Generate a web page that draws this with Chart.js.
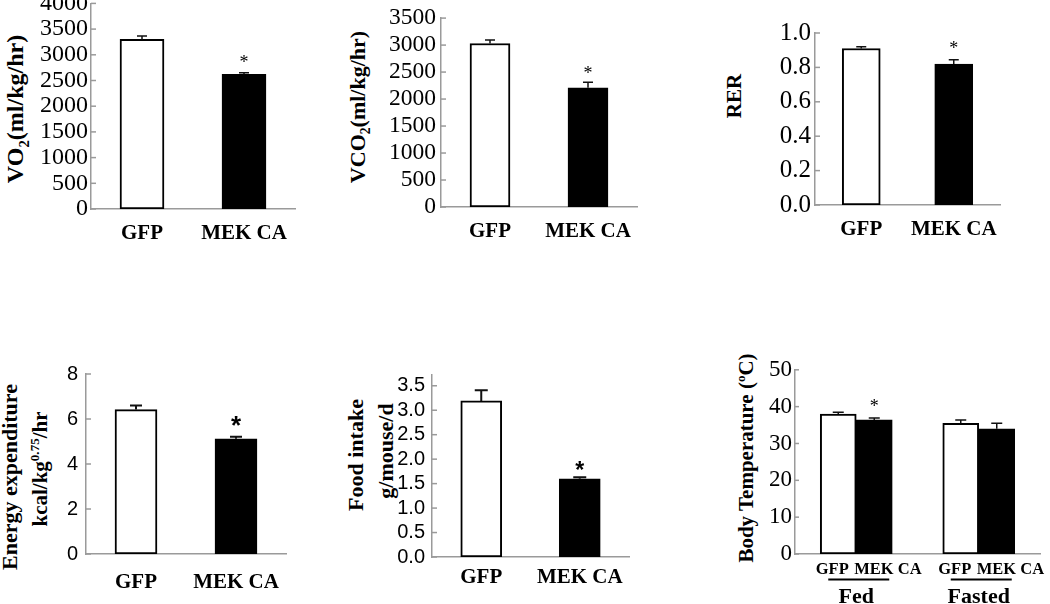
<!DOCTYPE html>
<html>
<head>
<meta charset="utf-8">
<script src="https://cdn.jsdelivr.net/npm/chart.js@4.4.1/dist/chart.umd.min.js"></script>
<style>
  body { margin: 0; background: #fff; }
  #lienzo { position: relative; width: 1050px; height: 604px; overflow: hidden; background: #fff; }
  #lienzo canvas { position: absolute; }
  .titulo {
    position: absolute; white-space: nowrap; line-height: 1; color: #000;
    font-family: "Liberation Serif", "Times New Roman", serif; font-weight: bold;
    transform: translate(-50%, -50%) rotate(-90deg);
  }
  .titulo sub, .titulo sup { font-size: 0.62em; line-height: 0; }
</style>
</head>
<body>
<div id="lienzo">
  <div class="titulo" style="left:15px; top:109px; font-size:24px">VO<sub>2</sub>(ml/kg/hr)</div>
  <div class="titulo" style="left:358px; top:107px; font-size:22px">VCO<sub>2</sub>(ml/kg/hr)</div>
  <div class="titulo" style="left:734px; top:96px; font-size:21px">RER</div>
  <div class="titulo" style="left:10px; top:477px; font-size:22px">Energy expenditure</div>
  <div class="titulo" style="left:40px; top:469px; font-size:21px">kcal/kg<sup>0.75</sup>/hr</div>
  <div class="titulo" style="left:356px; top:455px; font-size:22px">Food intake</div>
  <div class="titulo" style="left:386px; top:451px; font-size:22px">g/mouse/d</div>
  <div class="titulo" style="left:746px; top:458px; font-size:21px">Body Temperature (<sup>o</sup>C)</div>
</div>
<script>
// datos
const grupos = ["GFP", "MEK CA"];

const vo2 = [3300, 2620];
const vo2Error = [65, 30];

const vco2 = [3030, 2210];
const vco2Error = [65, 100];

const rer = [0.91, 0.82];
const rerError = [0.01, 0.025];

const energia = [6.42, 5.12];
const energiaError = [0.18, 0.09];

const comida = [3.19, 1.60];
const comidaError = [0.22, 0.03];

const condiciones = ["Fed", "Fasted"];
const temperaturaGFP = [38.0, 35.5];
const temperaturaGFPError = [0.5, 0.9];
const temperaturaMEK = [36.4, 34.0];
const temperaturaMEKError = [0.5, 1.5];

const significativo = [false, true];
const significativoTemp = [true, false];

const colorEje = '#9a9a9a';
const serif = '"Liberation Serif", "Times New Roman", serif';
const sans = '"Liberation Sans", Arial, sans-serif';

// barras de error, marcas del eje hacia dentro, asteriscos y subetiquetas
const extrasPlugin = {
  id: 'extras',
  afterDatasetsDraw(chart, args, opts) {
    const ctx = chart.ctx;
    const area = chart.chartArea;
    const escalaY = chart.scales.y;
    ctx.save();

    ctx.strokeStyle = colorEje;
    ctx.lineWidth = 1.5;
    escalaY.ticks.forEach(t => {
      const py = escalaY.getPixelForValue(t.value);
      ctx.beginPath();
      ctx.moveTo(area.left, py);
      ctx.lineTo(area.left + opts.marca, py);
      ctx.stroke();
    });

    chart.data.datasets.forEach((ds, d) => {
      chart.getDatasetMeta(d).data.forEach((bar, i) => {
        const tope = escalaY.getPixelForValue(ds.data[i] + ds.errores[i]);
        ctx.strokeStyle = '#111';
        ctx.lineWidth = opts.grosorError;
        ctx.beginPath();
        ctx.moveTo(bar.x, bar.y);
        ctx.lineTo(bar.x, tope);
        ctx.moveTo(bar.x - opts.tapa / 2, tope);
        ctx.lineTo(bar.x + opts.tapa / 2, tope);
        ctx.stroke();
        if (ds.estrellas[i]) {
          ctx.fillStyle = '#000';
          ctx.font = opts.fuenteEstrella;
          ctx.textAlign = 'center';
          ctx.textBaseline = 'alphabetic';
          ctx.fillText('*', bar.x, tope + opts.dyEstrella);
        }
      });
    });

    if (opts.subEtiquetas) {
      const gfp = chart.getDatasetMeta(0).data;
      const mek = chart.getDatasetMeta(1).data;
      ctx.fillStyle = '#000';
      ctx.font = 'bold 16.5px ' + serif;
      ctx.textBaseline = 'middle';
      gfp.forEach((barG, i) => {
        const barM = mek[i];
        const yTexto = area.bottom + 15.5;
        ctx.textAlign = 'center';
        ctx.fillText(chart.data.datasets[0].label, barG.x - 6, yTexto);
        ctx.textAlign = 'left';
        ctx.fillText(chart.data.datasets[1].label, barM.x - barM.width / 2 - 2, yTexto);
        const izq = barG.x - barG.width / 2;
        const der = barM.x + barM.width / 2;
        ctx.strokeStyle = '#000';
        ctx.lineWidth = 2;
        ctx.beginPath();
        ctx.moveTo(izq + 8, area.bottom + 25.5);
        ctx.lineTo(der - 3, area.bottom + 25.5);
        ctx.stroke();
      });
    }
    ctx.restore();
  }
};

function crearPanel(p) {
  const anchoY = 90, altoX = 70, margenSup = 16;
  const margenDer = p.margenDer || 30;
  const canvas = document.createElement('canvas');
  canvas.width = anchoY + (p.der - p.izq) + margenDer;
  canvas.height = margenSup + (p.abajo - p.arriba) + altoX;
  canvas.style.left = (p.izq - anchoY) + 'px';
  canvas.style.top = (p.arriba - margenSup) + 'px';
  document.getElementById('lienzo').appendChild(canvas);

  return new Chart(canvas.getContext('2d'), {
    type: 'bar',
    data: { labels: p.etiquetas, datasets: p.series },
    plugins: [extrasPlugin],
    options: {
      responsive: false,
      animation: false,
      devicePixelRatio: 1,
      layout: { padding: { top: margenSup, right: margenDer, left: 0, bottom: 0 } },
      scales: {
        x: {
          grid: { display: false, drawTicks: false },
          border: { display: true, color: colorEje, width: 1.5 },
          ticks: {
            color: '#000',
            padding: p.padX,
            maxRotation: 0,
            autoSkip: false,
            font: { family: serif, size: p.fuenteX || 21, weight: 'bold' }
          },
          afterFit: s => { s.height = altoX; }
        },
        y: {
          min: 0,
          max: p.max,
          grid: { display: false, drawTicks: false },
          border: { display: true, color: colorEje, width: 1.5 },
          ticks: {
            stepSize: p.paso,
            includeBounds: false,
            autoSkip: false,
            color: '#000',
            padding: p.padY,
            font: { family: p.familiaY, size: p.fuenteY },
            callback: v => p.decimales ? v.toFixed(p.decimales) : v
          },
          afterFit: s => { s.width = anchoY; }
        }
      },
      plugins: {
        legend: { display: false },
        tooltip: { enabled: false },
        extras: p.extras
      }
    }
  });
}

function serieSimple(valores, errores, ancho) {
  return [{
    label: 'Promedio',
    data: valores,
    errores: errores,
    estrellas: significativo,
    backgroundColor: ['#ffffff', '#000000'],
    borderColor: '#000',
    borderWidth: 2,
    borderSkipped: false,
    barThickness: ancho
  }];
}

crearPanel({
  izq: 91, der: 295, arriba: 2, abajo: 209,
  max: 4000, paso: 500, familiaY: serif, fuenteY: 24, padY: 3, padX: 12,
  etiquetas: grupos, series: serieSimple(vo2, vo2Error, 44),
  extras: { marca: 5, tapa: 10, grosorError: 1.5, fuenteEstrella: '18px ' + serif, dyEstrella: -4.5 }
});

crearPanel({
  izq: 441, der: 637, arriba: 15, abajo: 207,
  max: 3500, paso: 500, familiaY: serif, fuenteY: 23.5, padY: 5, padX: 12,
  etiquetas: grupos, series: serieSimple(vco2, vco2Error, 40),
  extras: { marca: 5, tapa: 10, grosorError: 1.5, fuenteEstrella: '18px ' + serif, dyEstrella: -3.5 }
});

crearPanel({
  izq: 815, der: 1000, arriba: 30, abajo: 205,
  max: 1.0, paso: 0.2, decimales: 1, familiaY: serif, fuenteY: 25, padY: 4, padX: 12,
  etiquetas: grupos, series: serieSimple(rer, rerError, 38),
  extras: { marca: 5, tapa: 10, grosorError: 1.5, fuenteEstrella: '18px ' + serif, dyEstrella: -5.5 }
});

crearPanel({
  izq: 86, der: 286, arriba: 370, abajo: 554,
  max: 8, paso: 2, familiaY: sans, fuenteY: 20, padY: 8, padX: 16,
  etiquetas: grupos, series: serieSimple(energia, energiaError, 42),
  extras: { marca: 5, tapa: 12, grosorError: 2, fuenteEstrella: 'bold 26px ' + sans, dyEstrella: -3 }
});

crearPanel({
  izq: 432, der: 629, arriba: 372, abajo: 557,
  max: 3.72, paso: 0.5, decimales: 1, familiaY: sans, fuenteY: 20, padY: 7, padX: 8,
  etiquetas: grupos, series: serieSimple(comida, comidaError, 41),
  extras: { marca: 5, tapa: 13, grosorError: 2, fuenteEstrella: 'bold 23px ' + sans, dyEstrella: 0.5 }
});

crearPanel({
  izq: 795, der: 1040, arriba: 369, abajo: 554, margenDer: 10,
  max: 50, paso: 10, familiaY: serif, fuenteY: 23, padY: 3, padX: 30, fuenteX: 22,
  etiquetas: condiciones,
  series: [
    {
      label: 'GFP', data: temperaturaGFP, errores: temperaturaGFPError, estrellas: [false, false],
      backgroundColor: '#ffffff', borderColor: '#000', borderWidth: 2, borderSkipped: false, barThickness: 36
    },
    {
      label: 'MEK CA', data: temperaturaMEK, errores: temperaturaMEKError, estrellas: significativoTemp,
      backgroundColor: '#000000', borderColor: '#000', borderWidth: 2, borderSkipped: false, barThickness: 36
    }
  ],
  extras: { marca: 4, tapa: 11, grosorError: 1.5, fuenteEstrella: '18px ' + serif, dyEstrella: -6.5, subEtiquetas: true }
});
</script>
</body>
</html>
